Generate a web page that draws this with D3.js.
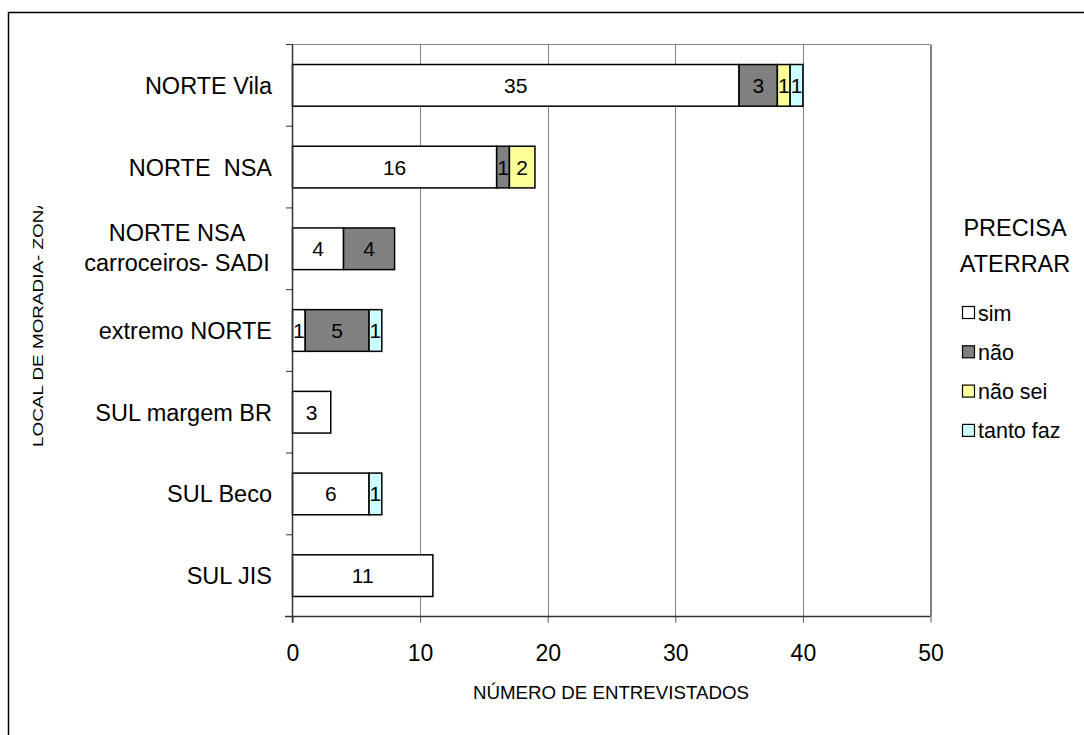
<!DOCTYPE html>
<html><head><meta charset="utf-8">
<script src="https://cdn.jsdelivr.net/npm/d3@7"></script>
<style>body{margin:0;background:#fff}svg{display:block}text{font-family:"Liberation Sans",Arial,sans-serif;white-space:pre}</style>
</head><body><svg id="c" width="1084" height="735"></svg>
<script>
const categories = ["NORTE Vila", "NORTE  NSA", "NORTE NSA\ncarroceiros- SADI", "extremo NORTE", "SUL margem BR", "SUL Beco", "SUL JIS"];
const seriesNames = ["sim", "não", "não sei", "tanto faz"];
const sim      = [35, 16, 4, 1, 3, 6, 11];
const nao      = [3, 1, 4, 5, 0, 0, 0];
const naoSei   = [1, 2, 0, 0, 0, 0, 0];
const tantoFaz = [1, 0, 0, 1, 0, 1, 0];
const colors = ["#ffffff", "#808080", "#ffff99", "#ccffff"];
const xTicks = [0, 10, 20, 30, 40, 50];

const svg = d3.select("#c");
const L = 292.5, R = 930.5, T = 44.5, B = 616.5;
const x = d3.scaleLinear().domain([0, 50]).range([L, R]);
const y = d3.scaleBand().domain(categories).range([T, B]).paddingInner(0.49).paddingOuter(0.245);
const yb = d3.scaleBand().domain(categories).range([T, B]);

// outer frame (top & left only visible)
svg.append("rect").attr("x", 8.5).attr("y", 12.5).attr("width", 1200).attr("height", 800)
  .attr("fill", "none").attr("stroke", "#000").attr("stroke-width", 1.5);

// gridlines
svg.append("g").selectAll("line").data(xTicks.slice(1)).join("line")
  .attr("x1", d => Math.round(x(d)) + 0.5).attr("x2", d => Math.round(x(d)) + 0.5)
  .attr("y1", T).attr("y2", B).attr("stroke", "#808080").attr("stroke-width", 1);
svg.append("line").attr("x1", L).attr("x2", R).attr("y1", T).attr("y2", T).attr("stroke", "#808080");

// stacked data
const table = categories.map((c, i) => ({cat: c, sim: sim[i], "não": nao[i], "não sei": naoSei[i], "tanto faz": tantoFaz[i]}));
const stack = d3.stack().keys(seriesNames)(table);

const g = svg.append("g");
stack.forEach((layer, si) => {
  layer.forEach(d => {
    const v = d[1] - d[0];
    if (v <= 0) return;
    const x0 = x(d[0]), x1 = x(d[1]);
    const yy = y(d.data.cat);
    g.append("rect").attr("x", x0).attr("y", yy).attr("width", x1 - x0).attr("height", y.bandwidth())
      .attr("fill", colors[si]).attr("stroke", "#000").attr("stroke-width", 1.5);
    g.append("text").attr("x", (x0 + x1) / 2).attr("y", yy + y.bandwidth() / 2 + 7.5)
      .attr("text-anchor", "middle").attr("font-size", 21).attr("fill", "#000").text(v);
  });
});

// axes
const xAxis = d3.axisBottom(x).tickValues(xTicks).tickSize(6).tickPadding(0).tickSizeOuter(0);
const ax = svg.append("g").attr("transform", `translate(0,${B})`).call(xAxis);
ax.select(".domain").remove();
svg.append("line").attr("x1", 285).attr("x2", R).attr("y1", B).attr("y2", B).attr("stroke", "#333").attr("stroke-width", 1.5);
ax.selectAll(".tick line").attr("stroke", "#555");
ax.selectAll("text").attr("font-size", 23).attr("fill", "#000").attr("dy", null).attr("y", 44)
  .attr("font-family", "Liberation Sans, Arial, sans-serif");

svg.append("line").attr("x1", L).attr("x2", L).attr("y1", T).attr("y2", B + 6).attr("stroke", "#333").attr("stroke-width", 1.5);
svg.append("line").attr("x1", R).attr("x2", R).attr("y1", T).attr("y2", B).attr("stroke", "#808080");
// y ticks at band boundaries
const bounds = categories.map(c => yb(c)).concat([B]);
svg.append("g").selectAll("line").data(bounds).join("line")
  .attr("x1", 286).attr("x2", L).attr("y1", d => d).attr("y2", d => d).attr("stroke", "#333");

// category labels
categories.forEach(c => {
  const lines = c.split("\n");
  const cy = yb(c) + yb.bandwidth() / 2;
  if (lines.length === 1) {
    svg.append("text").attr("x", 272).attr("y", cy + 8.5)
      .attr("text-anchor", "end").attr("font-size", 23.5).attr("fill", "#000").text(lines[0]);
  } else {
    lines.forEach((ln, i) => {
      svg.append("text").attr("x", 177).attr("y", cy + 7.5 + (i - (lines.length - 1) / 2) * 30)
        .attr("text-anchor", "middle").attr("font-size", 23.5).attr("fill", "#000").text(ln);
    });
  }
});

// axis titles
svg.append("text").attr("x", 611).attr("y", 699).attr("text-anchor", "middle").attr("font-size", 18)
  .attr("textLength", 276).attr("lengthAdjust", "spacingAndGlyphs")
  .attr("fill", "#000").text("NÚMERO DE ENTREVISTADOS");
svg.append("clipPath").attr("id", "yc").append("rect").attr("x", 0).attr("y", 206).attr("width", 80).attr("height", 300);
svg.append("g").attr("clip-path", "url(#yc)")
  .append("text").attr("transform", "translate(43,447) rotate(-90)")
  .attr("text-anchor", "start").attr("font-size", 15).attr("textLength", 250).attr("lengthAdjust", "spacingAndGlyphs")
  .attr("fill", "#000").text("LOCAL DE MORADIA- ZONA");

// legend
svg.append("text").attr("x", 1015).attr("y", 236).attr("text-anchor", "middle").attr("font-size", 23.5).text("PRECISA");
svg.append("text").attr("x", 1015).attr("y", 272).attr("text-anchor", "middle").attr("font-size", 23.5).text("ATERRAR");
seriesNames.forEach((s, i) => {
  const cy = 313 + i * 39.3;
  svg.append("rect").attr("x", 962.5).attr("y", cy - 6.5).attr("width", 12).attr("height", 12)
    .attr("fill", colors[i]).attr("stroke", "#000").attr("stroke-width", 1.2);
  svg.append("text").attr("x", 978).attr("y", cy + 7.5).attr("font-size", 21.5).text(s);
});
</script></body></html>
